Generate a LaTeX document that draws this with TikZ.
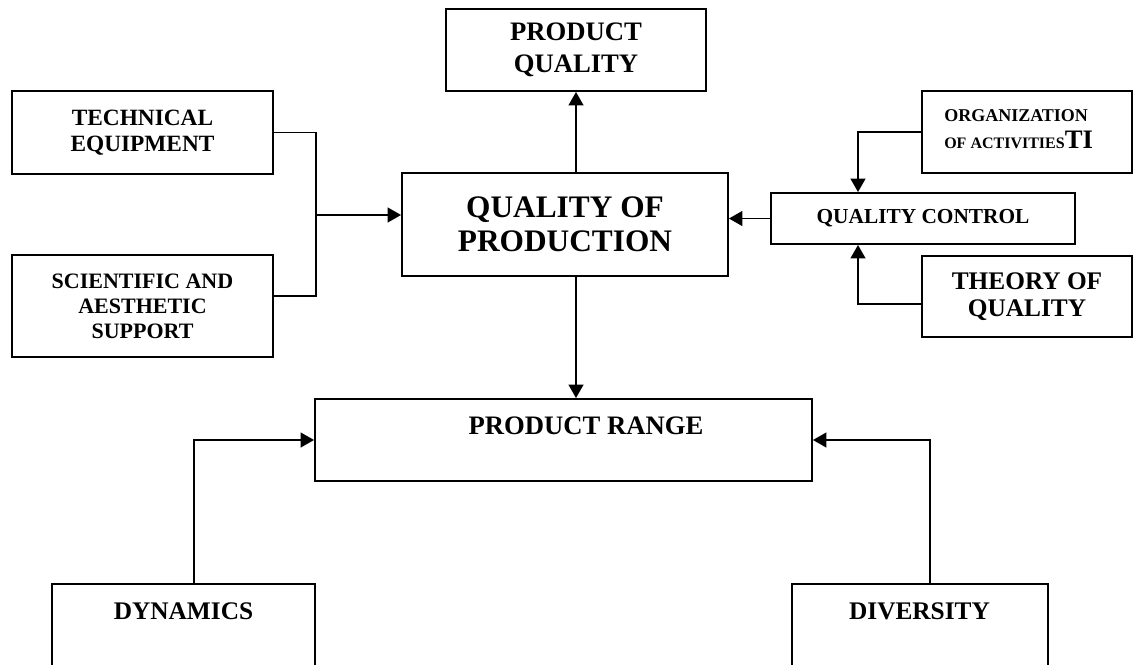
\documentclass[tikz,border=0pt]{standalone}
\usepackage{fontspec}
\setmainfont{Liberation Serif}
\usetikzlibrary{arrows.meta}
\newcommand\fsz[2]{\fontsize{#1}{#2}\selectfont}
\begin{document}
\begin{tikzpicture}[x=0.75pt,y=-0.75pt,
  box/.style={draw, line width=1.4pt, inner sep=0pt, align=center},
  lbl/.style={inner sep=0pt, align=center},
  conn/.style={line width=1.4pt},
  arr/.style={conn, -{Triangle[length=10pt,width=11pt]}}]
\useasboundingbox (0,0) rectangle (1134,664);

% top row
\node[box, minimum width=195pt, minimum height=61.5pt, font=\bfseries\fsz{20}{24}] (pq) at (576,50) {PRODUCT\\QUALITY};
\node[box, minimum width=244.5pt, minimum height=77.25pt, font=\bfseries\fsz{23.5}{25.5}] (qop) at (565,224.5) {QUALITY OF\\PRODUCTION};

% left inputs
\node[box, minimum width=195.75pt, minimum height=62.25pt, font=\bfseries\fsz{17.5}{19.5}] (te) at (142.5,132.5) {TECHNICAL\\EQUIPMENT};
\node[box, minimum width=195.75pt, minimum height=76.5pt, font=\bfseries\fsz{16.5}{18.75}] (sa) at (142.5,306) {SCIENTIFIC AND\\AESTHETIC\\SUPPORT};

% right inputs
\node[box, minimum width=228pt, minimum height=38.25pt, font=\bfseries\fsz{16}{18}] (qc) at (923,218.5) {QUALITY CONTROL};
\node[box, minimum width=157.5pt, minimum height=61.5pt] (org) at (1027,132) {};
\node[lbl, anchor=base west, font=\bfseries\fsz{13.5}{16}] (orgt1) at (944,121) {ORGANIZATION};
\node[lbl, anchor=base west, font=\bfseries] (orgt2) at (944,148)
  {{\fsz{12}{14}OF ACTIVITIES}{\fsz{20}{22}TI}};
\node[box, minimum width=157.5pt, minimum height=60.75pt, font=\bfseries\fsz{19}{20}] (th) at (1027,296.5) {THEORY OF\\QUALITY};

% product range and its inputs
\node[box, minimum width=372.75pt, minimum height=61.5pt] (pr) at (563.5,440) {};
\node[lbl, font=\bfseries\fsz{20}{24}] (prt) at (586,426) {PRODUCT RANGE};
\node[box, minimum width=197.25pt, minimum height=90pt] (dy) at (183.5,644) {};
\node[lbl, font=\bfseries\fsz{19}{22}] (dyt) at (183.5,611) {DYNAMICS};
\node[box, minimum width=192pt, minimum height=90pt] (dv) at (920,644) {};
\node[lbl, font=\bfseries\fsz{19}{22}] (dvt) at (919.5,611) {DIVERSITY};

% connectors
\draw[arr] (pq.south |- qop.north) -- (pq.south);
\draw[arr] (pq.south |- qop.south) -- (pq.south |- pr.north);

\coordinate (jl) at (316,215);
\draw[conn] (te.east) -| (jl);
\draw[conn] ([yshift=7.5pt]sa.east) -| (jl);
\draw[arr] (jl) -- (jl -| qop.west);

\draw[arr] (qc.west) -- (qc.west -| qop.east);
\coordinate (jr) at (858,215);
\draw[arr] (org.west) -| (jr |- qc.north);
\draw[arr] ([yshift=-5.6pt]th.west) -| (jr |- qc.south);

\draw[arr] ([xshift=7.9pt]dy.north) |- (pr.west);
\draw[arr] ([xshift=7.5pt]dv.north) |- (pr.east);
\end{tikzpicture}
\end{document}
